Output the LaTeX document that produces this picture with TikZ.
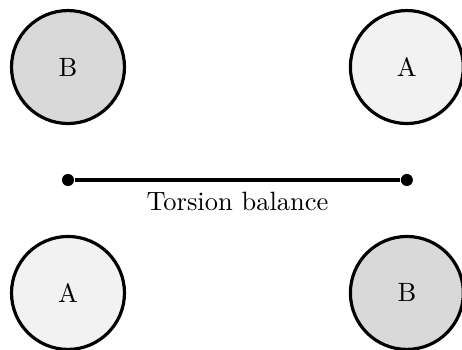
\documentclass[tikz,border=0pt]{standalone}
\begin{document}
\begin{tikzpicture}[
  ball/.style={circle, draw, line width=1.2pt, minimum size=1.5cm, inner sep=0pt},
  ballA/.style={ball, fill=gray!10},
  ballB/.style={ball, fill=gray!30},
  enddot/.style={circle, fill=black, minimum size=0.16cm, inner sep=0pt},
  rod/.style={line width=1.2pt}
]
\useasboundingbox (-0.903,-0.745) rectangle (5.232,3.89);
\node[ballB] (b1) at (0,3) {B};
\node[ballA] (a1) at (4.5,3) {A};
\node[ballA] (a2) at (0,0) {A};
\node[ballB] (b2) at (4.5,0) {B};
\node[enddot] (l) at (0,1.5) {};
\node[enddot] (r) at (4.5,1.5) {};
\draw[rod] (l) -- (r);
\node[anchor=base] (lbl) at (2.25,1.09) {Torsion balance};
\end{tikzpicture}
\end{document}
